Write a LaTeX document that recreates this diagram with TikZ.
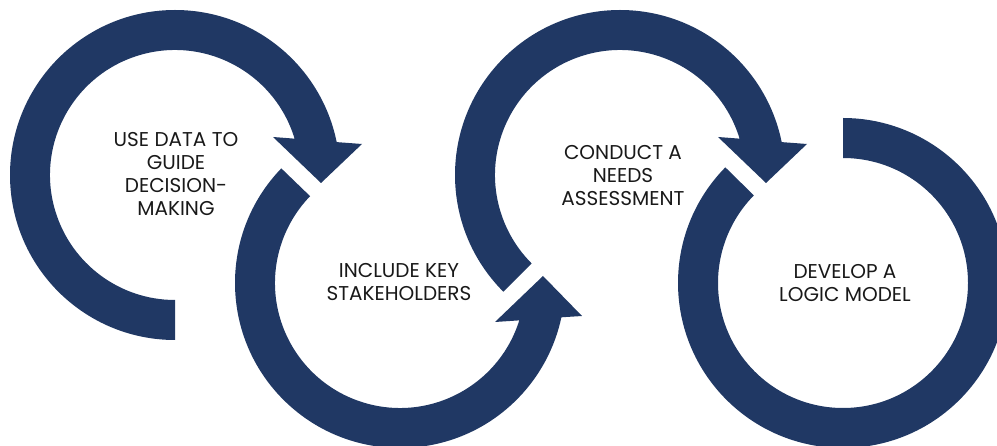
\documentclass[tikz,border=0pt]{standalone}
\usepackage{fontspec}
\setmainfont{Poppins}
\definecolor{navy}{RGB}{32,56,100}
\definecolor{ink}{RGB}{25,25,25}
\begin{document}
\begin{tikzpicture}[x=1pt,y=1pt,
  ring/.style={fill=navy,draw=none},
  lbl/.style={text=ink,align=center,font=\fontsize{20}{23}\selectfont,inner sep=0pt}]
\useasboundingbox (0,0) rectangle (997,-446);
\clip (0,0) rectangle (997,-446);
\coordinate (c1) at (175,-175);
\coordinate (c2) at (400,-283);
\coordinate (c3) at (620,-175);
\coordinate (c4) at (843,-283);
% ring 1
\fill[ring,shift={(c1)}] (270:165) arc[start angle=270,end angle=11.5,radius=165]
  -- (187,31) -- (146,-8) -- (98,38) -- (16.9:125)
  arc[start angle=16.9,end angle=270,radius=125] -- cycle;
% ring 2
\fill[ring,shift={(c2)}] (136:165) arc[start angle=136,end angle=348,radius=165]
  -- (182,-33) -- (143,7) -- (95,-39) -- (342.6:125)
  arc[start angle=342.6,end angle=136,radius=125] -- cycle;
% ring 3
\fill[ring,shift={(c3)}] (225:165) arc[start angle=225,end angle=11.5,radius=165]
  -- (187,31) -- (146,-8) -- (98,38) -- (16.9:125)
  arc[start angle=16.9,end angle=225,radius=125] -- cycle;
% ring 4
\fill[ring,shift={(c4)}] (135.5:165) arc[start angle=135.5,end angle=450,radius=165]
  -- (450:125) arc[start angle=450,end angle=135.5,radius=125] -- cycle;
% labels
\node[lbl] (t1) at (176,-174) {USE DATA TO\\GUIDE\\DECISION-\\MAKING};
\node[lbl] (t2) at (399,-282) {INCLUDE KEY\\STAKEHOLDERS};
\node[lbl] (t3) at (623,-176) {CONDUCT A\\NEEDS\\ASSESSMENT};
\node[lbl] (t4) at (845,-283) {DEVELOP A\\LOGIC MODEL};
\end{tikzpicture}
\end{document}
